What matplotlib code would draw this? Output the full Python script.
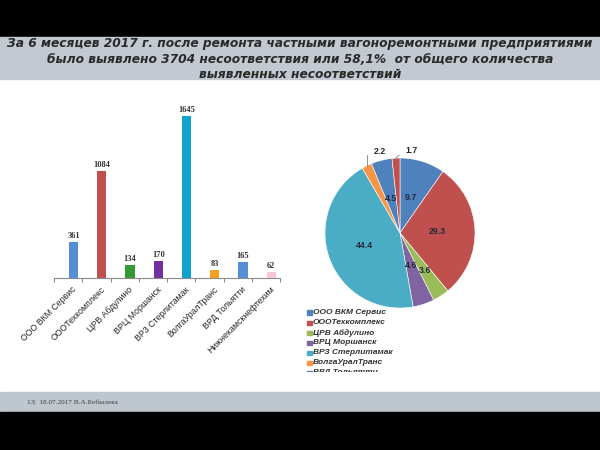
import matplotlib
matplotlib.use('Agg')
import matplotlib.pyplot as plt
import numpy as np
from matplotlib.patches import Rectangle
from matplotlib.lines import Line2D

# ---------------- data ----------------
categories = ['ООО ВКМ Сервис', 'ОООТехкомплекс', 'ЦРВ Абдулино', 'ВРЦ Моршанск',
              'ВРЗ Стерлитамак', 'ВолгаУралТранс', 'ВРД Тольятти', 'Нижнекамскнефтехим']
counts = [361, 1084, 134, 170, 1645, 83, 165, 62]
shares = [9.7, 29.3, 3.6, 4.6, 44.4, 2.2, 4.5, 1.7]
title_lines = ['За 6 месяцев 2017 г. после ремонта частными вагоноремонтными предприятиями',
               'было выявлено 3704 несоответствия или 58,1%  от общего количества',
               'выявленных несоответствий']
footer_text = '13|  18.07.2017 В.А.Бобылева'

# ---------------- styles ----------------
bar_colors = ['#558ED5', '#C0504D', '#339933', '#7030A0', '#0EA3CF', '#F5A11B', '#558ED5', '#F6C7D3']
pie_colors = ['#4F81BD', '#C0504D', '#9BBB59', '#8064A2', '#4BACC6', '#F79646', '#4F81BD', '#C0504D']
SANS = ['Liberation Sans', 'DejaVu Sans']
TITLE_FONT = ['DejaVu Sans']
SERIF = ['Liberation Serif', 'DejaVu Serif']

W, H = 600, 450
fig = plt.figure(figsize=(6, 4.5), dpi=100)
fig.patch.set_facecolor('white')


def fx(px):
    return px / W


def fy(px):
    return 1 - px / H


# background bands
for top, bot, col in [(0, 37, 'black'), (37, 79, '#C3C9D0'),
                      (392, 412, '#BEC6CE'), (412, 450, 'black')]:
    fig.patches.append(Rectangle((0, fy(bot)), 1, (bot - top) / H,
                                 transform=fig.transFigure, color=col, zorder=-5))

# title (fit first line to target width)
title_y = [43, 59, 75]
texts = []
for line, yy in zip(title_lines, title_y):
    texts.append(fig.text(0.5, fy(yy), line, ha='center', va='center', fontsize=10,
                          family=TITLE_FONT, weight='bold', style='italic', color='#2A2A2A'))
fig.canvas.draw()
w0 = texts[0].get_window_extent().width
fs = 10 * 586 / w0
for t in texts:
    t.set_fontsize(fs)

# footer
fig.text(fx(27), fy(402), footer_text, ha='left', va='center', fontsize=5.2,
         family=SERIF, color='#404040')

# ---------------- bar chart ----------------
axb = fig.add_axes([fx(54), fy(278), fx(280) - fx(54), fy(100) - fy(278)])
axb.set_facecolor('none')
x = np.arange(len(categories))
axb.bar(x + 0.19, counts, width=0.33, color=bar_colors, zorder=2)
axb.set_xlim(-0.5, len(categories) - 0.5)
axb.set_ylim(0, 1807)
for s in ['top', 'right', 'left']:
    axb.spines[s].set_visible(False)
axb.spines['bottom'].set_color('#8C8C8C')
axb.spines['bottom'].set_linewidth(0.8)
axb.set_yticks([])
axb.set_xticks(np.arange(-0.5, len(categories)), minor=True)
axb.tick_params(axis='x', which='minor', length=3, color='#8C8C8C', width=0.8)
axb.set_xticks(x + 0.14)
axb.set_xticklabels(categories, rotation=45, ha='right', rotation_mode='anchor',
                    fontsize=6.3, family=SANS, color='#262626')
axb.tick_params(axis='x', which='major', length=0, pad=5)
for xi, v in zip(x, counts):
    axb.annotate(str(v), (xi + 0.19, v), xytext=(0, 1.5), textcoords='offset points',
                 ha='center', va='bottom', fontsize=6, weight='bold', family=SERIF,
                 color='#333333')

# ---------------- pie chart ----------------
axp = fig.add_axes([fx(325), fy(308), fx(150), 150 / H])
axp.set_facecolor('none')
wedges, _ = axp.pie(shares, colors=pie_colors, startangle=90, counterclock=False,
                    radius=1, wedgeprops=dict(edgecolor='white', linewidth=0.4))
axp.set_xlim(-1, 1)
axp.set_ylim(-1, 1)
axp.set_aspect('equal')
axp.axis('off')

cum = np.cumsum([0] + shares[:-1])
mid_angles = np.deg2rad(90 - (cum + np.array(shares) / 2) * 3.6)
# leader styles for small slices: (line end offset, text offset) in radius units
small_style = {5: ((0.0, 0.14), (0.17, 0.19)), 7: ((0.04, 0.04), (0.21, 0.10))}
# radial position of inside labels (3.6 nudged outward to limit overlap)
inside_r = [0.5, 0.5, 0.6, 0.46, 0.5, 0.5, 0.48, 0.5]
for i, (share, a) in enumerate(zip(shares, mid_angles)):
    if i in small_style:
        ex, ey = np.cos(a), np.sin(a)
        (lx, ly), (tx, ty) = small_style[i]
        axp.add_line(Line2D([ex, ex + lx], [ey, ey + ly], color='#7F7F7F', lw=0.6,
                            clip_on=False))
        axp.text(ex + tx, ey + ty, f'{share}', ha='center', va='center', fontsize=6.3,
                 weight='bold', family=SANS, color='#262626', clip_on=False)
    else:
        r = inside_r[i]
        axp.text(r * np.cos(a), r * np.sin(a), f'{share}', ha='center', va='center',
                 fontsize=6.3, weight='bold', family=SANS, color='#1F2A3A')

# legend (clipped like in the slide)
axl = fig.add_axes([fx(303), fy(372), fx(110), (372 - 308) / H])
axl.set_xlim(0, 110)
axl.set_ylim(372, 308)
axl.axis('off')
for i in range(7):
    yy = 313 + 10 * i
    axl.add_patch(Rectangle((4, yy - 2.5), 4.5, 4.5, color=pie_colors[i], clip_on=True))
    axl.text(10, yy, categories[i], ha='left', va='center', fontsize=6, weight='bold',
             style='italic', family=SANS, color='#333333', clip_on=True)

fig.savefig('out.png', dpi=100)
